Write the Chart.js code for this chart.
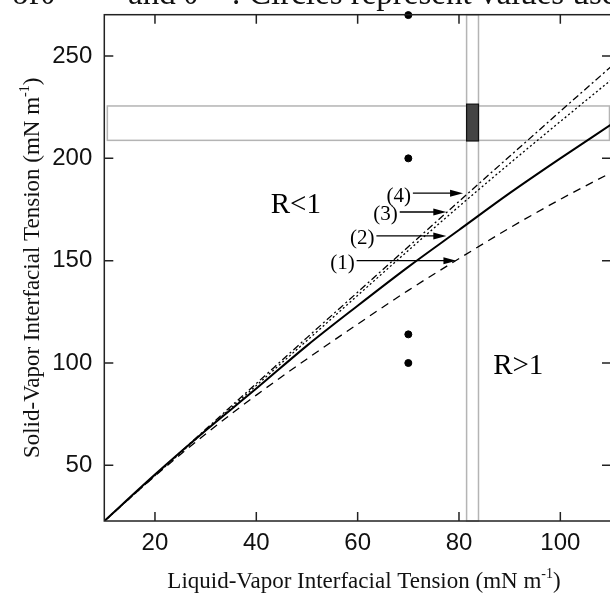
<!DOCTYPE html>
<html>
<head>
<meta charset="utf-8">
<script src="https://cdn.jsdelivr.net/npm/chart.js@4.4.1/dist/chart.umd.min.js"></script>
<style>
  html, body { margin: 0; padding: 0; background: #fff; overflow: hidden; }
  #wrap { width: 620px; height: 595px; }
</style>
</head>
<body>
<div id="wrap"><canvas id="tensionChart" width="620" height="595"></canvas></div>
<script>
// liquid-vapor tension (x) and the four solid-vapor curves
const lvTension = [10, 20, 30, 40, 50, 60, 70, 80, 90, 100, 110];
const svCurve2 = [22.8, 45.5, 67, 87.5, 108.5, 128, 147, 165, 183, 200, 216.5];
const svCurve1 = [22.8, 44.8, 65.3, 84.3, 102, 119, 135.5, 151, 166, 180, 193];
const svCurve3 = [22.8, 45, 67, 89, 111, 133, 155, 176.5, 197.5, 218, 238.3];
const svCurve4 = [22.8, 45.2, 67.6, 90, 112.4, 134.6, 156.8, 179, 201, 223, 244.8];

// circles at lv = 70
const circleX = [70, 70, 70, 70];
const circleY = [270, 200, 114, 100];

const xTicks = [20, 40, 60, 80, 100];
const yTicks = [50, 100, 150, 200, 250];

// shaded ranges (data units)
const lvBand = [81.5, 83.85];
const svBand = [208.8, 225.6];
const svBandLv = [10.6, 109.7];
const boxSv = [208.5, 226.5];

// arrow labels
const arrowLabels = ["(1)", "(2)", "(3)", "(4)"];
const arrowFrom = [59.8, 63.7, 68.3, 70.9];
const arrowTo = [79.5, 77.5, 77.5, 80.8];
const arrowSv = [150, 162.1, 173.8, 183];

const regionLabels = ["R<1", "R>1"];
const regionLv = [47.8, 91.7];
const regionSv = [177.2, 98.3];

// caption pieces cut off by the top edge
const captionParts = ["of", "\u03b8", "and", "\u03b8", ".", "Circles represent values used"];
const captionX = [12, 40, 128, 183, 232, 249];

Chart.defaults.font.family = "'Liberation Sans', Arial, sans-serif";

const toPoints = ys => lvTension.map((x, i) => ({ x, y: ys[i] }));

function unitTitle(ctx, main, cx, cy) {
  ctx.font = "23px 'Liberation Serif'";
  const w1 = ctx.measureText(main).width;
  const w3 = ctx.measureText(")").width;
  ctx.font = "14px 'Liberation Serif'";
  const w2 = ctx.measureText("-1").width;
  let sx = cx - (w1 + w2 + w3) / 2;
  ctx.textAlign = "left";
  ctx.textBaseline = "alphabetic";
  ctx.font = "23px 'Liberation Serif'";
  ctx.fillText(main, sx, cy);
  sx += w1;
  ctx.font = "14px 'Liberation Serif'";
  ctx.fillText("-1", sx, cy - 10);
  sx += w2;
  ctx.font = "23px 'Liberation Serif'";
  ctx.fillText(")", sx, cy);
}

const overlay = {
  id: "overlay",
  beforeDatasetsDraw(chart) {
    const { ctx, chartArea: a, scales: { x, y } } = chart;
    ctx.save();
    ctx.strokeStyle = "#b4b4b4";
    ctx.lineWidth = 1.5;
    const hx0 = x.getPixelForValue(svBandLv[0]), hx1 = x.getPixelForValue(svBandLv[1]);
    const hy0 = y.getPixelForValue(svBand[1]), hy1 = y.getPixelForValue(svBand[0]);
    ctx.strokeRect(hx0, hy0, hx1 - hx0, hy1 - hy0);
    const vx0 = x.getPixelForValue(lvBand[0]), vx1 = x.getPixelForValue(lvBand[1]);
    ctx.strokeRect(vx0, a.top, vx1 - vx0, a.bottom - a.top);
    const by0 = y.getPixelForValue(boxSv[1]), by1 = y.getPixelForValue(boxSv[0]);
    ctx.fillStyle = "#444";
    ctx.fillRect(vx0, by0, vx1 - vx0, by1 - by0);
    ctx.strokeStyle = "#111";
    ctx.lineWidth = 1.2;
    ctx.strokeRect(vx0, by0, vx1 - vx0, by1 - by0);
    ctx.restore();
  },
  afterDraw(chart) {
    const { ctx, chartArea: a, scales: { x, y } } = chart;
    ctx.save();
    // frame + inward ticks
    ctx.strokeStyle = "#222";
    ctx.lineWidth = 1.5;
    ctx.strokeRect(a.left, a.top, a.right - a.left, a.bottom - a.top);
    ctx.beginPath();
    xTicks.forEach(v => {
      const px = x.getPixelForValue(v);
      ctx.moveTo(px, a.bottom); ctx.lineTo(px, a.bottom - 9);
      ctx.moveTo(px, a.top); ctx.lineTo(px, a.top + 9);
    });
    yTicks.forEach(v => {
      const py = y.getPixelForValue(v);
      ctx.moveTo(a.left, py); ctx.lineTo(a.left + 9, py);
      ctx.moveTo(a.right, py); ctx.lineTo(a.right - 9, py);
    });
    ctx.stroke();

    // arrows
    ctx.fillStyle = "#000";
    ctx.strokeStyle = "#000";
    ctx.lineWidth = 1.3;
    ctx.font = "21px 'Liberation Serif'";
    ctx.textAlign = "right";
    ctx.textBaseline = "middle";
    arrowLabels.forEach((lab, i) => {
      const x0 = x.getPixelForValue(arrowFrom[i]);
      const x1 = x.getPixelForValue(arrowTo[i]);
      const py = y.getPixelForValue(arrowSv[i]);
      ctx.beginPath();
      ctx.moveTo(x0, py); ctx.lineTo(x1 - 10, py);
      ctx.stroke();
      ctx.beginPath();
      ctx.moveTo(x1, py); ctx.lineTo(x1 - 13, py - 3.5); ctx.lineTo(x1 - 13, py + 3.5);
      ctx.closePath();
      ctx.fill();
      ctx.fillText(lab, x0 - 2, py + 3);
    });

    // region labels
    ctx.font = "29px 'Liberation Serif'";
    ctx.textAlign = "center";
    regionLabels.forEach((lab, i) => {
      ctx.fillText(lab, x.getPixelForValue(regionLv[i]), y.getPixelForValue(regionSv[i]));
    });

    // axis titles
    ctx.fillStyle = "#111";
    unitTitle(ctx, "Liquid-Vapor Interfacial Tension (mN m", 364, 588);
    ctx.translate(39, (a.top + a.bottom) / 2);
    ctx.rotate(-Math.PI / 2);
    unitTitle(ctx, "Solid-Vapor Interfacial Tension (mN m", 0, 0);
    ctx.restore();

    // caption remnant cut at top edge
    ctx.save();
    ctx.fillStyle = "#111";
    ctx.font = "33px 'Liberation Serif'";
    ctx.textAlign = "left";
    ctx.textBaseline = "alphabetic";
    captionParts.forEach((t, i) => ctx.fillText(t, captionX[i], 3.5));
    ctx.restore();
  }
};

const lineSet = (label, ys, width, dash) => ({
  label,
  data: toPoints(ys),
  borderColor: "#000",
  borderWidth: width,
  borderDash: dash,
  pointRadius: 0,
  cubicInterpolationMode: "monotone",
  fill: false
});

new Chart(document.getElementById("tensionChart"), {
  type: "line",
  data: {
    datasets: [
      lineSet("(1)", svCurve1, 1.3, [8, 6]),
      lineSet("(2)", svCurve2, 2, []),
      lineSet("(3)", svCurve3, 1.3, [2, 2.5]),
      lineSet("(4)", svCurve4, 1.3, [7, 3, 2, 3]),
      {
        label: "circles",
        data: circleX.map((x, i) => ({ x, y: circleY[i] })),
        showLine: false,
        pointRadius: 3.5,
        pointBackgroundColor: "#000",
        pointBorderColor: "#000",
        clip: false
      }
    ]
  },
  options: {
    responsive: false,
    animation: false,
    events: [],
    layout: { padding: { top: 14.7, right: 9, left: 0, bottom: 0 } },
    plugins: { legend: { display: false }, tooltip: { enabled: false } },
    scales: {
      x: {
        type: "linear",
        min: 10,
        max: 110,
        afterBuildTicks: s => { s.ticks = xTicks.map(v => ({ value: v })); },
        afterFit: s => { s.height = 74; s.paddingLeft = 0; s.paddingRight = 0; },
        grid: { display: false, drawTicks: false },
        border: { display: false },
        ticks: { font: { size: 24 }, color: "#111", padding: 8, maxRotation: 0 }
      },
      y: {
        type: "linear",
        min: 22.8,
        max: 270.2,
        afterBuildTicks: s => { s.ticks = yTicks.map(v => ({ value: v })); },
        afterFit: s => { s.width = 104.3; s.paddingTop = 0; s.paddingBottom = 0; },
        grid: { display: false, drawTicks: false },
        border: { display: false },
        ticks: { font: { size: 24 }, color: "#111", padding: 12 }
      }
    }
  },
  plugins: [overlay]
});
</script>
</body>
</html>
